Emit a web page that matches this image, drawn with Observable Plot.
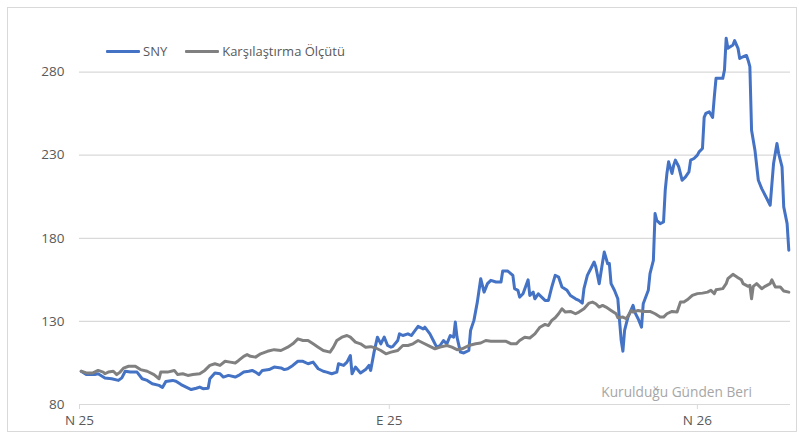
<!DOCTYPE html>
<html>
<head>
<meta charset="utf-8">
<script src="https://cdn.jsdelivr.net/npm/d3@7"></script>
<script src="https://cdn.jsdelivr.net/npm/@observablehq/plot@0.6"></script>
<style>
  body { margin: 0; background: #fff; font-family: "Open Sans", sans-serif; }
  #wrap { position: relative; width: 799px; height: 434px; overflow: hidden; }
  #frame { position: absolute; left: 7px; top: 7px; width: 790px; height: 425px; border: 1px solid #d9d9d9; box-sizing: border-box; pointer-events: none; }
  #legend { position: absolute; top: 42px; left: 106px; font-size: 13px; line-height: 18px; color: #595959; display: flex; align-items: center; white-space: nowrap; }
  #legend .item { display: flex; align-items: center; margin-right: 18px; }
  #legend .sw { display: inline-block; width: 34px; height: 3px; margin-right: 3px; border-radius: 1px; }
  #note { position: absolute; right: 47px; top: 383px; font-size: 13.7px; line-height: 18px; color: #a6a6a6; white-space: nowrap; }
  #chart { position: absolute; left: 0; top: 0; }
</style>
</head>
<body>
<div id="wrap">
  <div id="chart"></div>
  <div id="frame"></div>
  <div id="legend"></div>
  <div id="note"></div>
</div>
<script>
// Series names and colours
const seriesNames = ["SNY", "Karşılaştırma Ölçütü"];
const seriesColors = ["#4472C4", "#808080"];
const noteText = "Kurulduğu Günden Beri";

// X axis: days since start (April 2025)
const tickDays = [0, 183, 365];
const tickLabels = ["N 25", "E 25", "N 26"];
const yTicks = [80, 130, 180, 230, 280];

// SNY series (day, value)
const snyDays = [1,4,6,9,11,15,19,23,25,27,30,34,37,40,43,47,49,51,55,57,60,63,66,69,71,73,76,77,80,83,85,88,92,94,97,100,102,104,106,108,112,115,119,121,123,126,129,132,135,138,141,144,146,149,152,153,156,158,160,161,163,166,169,171,172,174,176,178,180,182,184,185,188,189,191,194,196,200,203,204,207,209,211,213,215,217,219,221,222,223,225,227,230,231,233,235,237,239,241,243,246,249,250,253,256,257,259,260,262,265,266,268,269,271,273,275,277,279,281,283,285,288,290,293,295,297,298,300,302,304,305,307,309,310,312,313,314,316,318,319,320,321,322,323,324,327,328,330,332,333,336,337,339,340,341,343,345,346,347,348,350,351,352,354,356,358,360,361,363,365,366,368,369,370,372,374,375,376,380,381,382,383,386,387,389,390,392,394,395,396,397,399,401,403,406,408,410,412,413,415,416,418,419];
const snyValues = [100,98,98,98,98.5,96,95.5,94.5,96,100,99.5,99.5,95.5,94.5,92.5,91.5,90.2,93.8,94.5,94,92,90.5,89,89.8,90.5,89.5,89.8,95.5,99,98.5,96.5,97.5,96.5,97.5,99.5,100,100.5,99.5,98,100.5,101,102.5,102,101,101.5,103.5,106,106,104.5,105.5,101.5,100,99.5,98.5,99.5,104.5,103.5,105.5,109.5,98.5,102.5,99,101,103.5,100.5,111.5,120.5,116.5,120.5,115.5,114.5,114.8,118.5,122.5,121.5,122.5,121.5,127,125.5,126.5,122.5,118.5,114.5,115.5,118.5,116.5,121.5,120.5,129.6,120.5,111.5,111,112.5,124.5,130.6,141.6,155.7,147.6,152.7,154.7,153.7,153.7,160.3,160.3,157.7,149.7,148.7,144.6,146.6,155,145.6,147.6,143.6,146.6,144.6,142.6,142.6,150.7,157.7,156.7,150.7,148.7,145.6,143.6,142.6,141,149.7,157.7,161.7,165.7,162.7,152.7,165.7,171.7,164.7,164.8,152.7,148.7,143.6,130.6,118.5,112.1,124.6,128.6,132.6,139.6,135.6,131.6,126.5,140.6,148.7,158.7,166.7,194.9,190.8,188.8,189.8,208.9,219,226,219,224,227,223,214.9,216.9,219.9,227,228,230,232,234,252.7,255.1,256.1,252.7,265,276.2,276.2,281.2,300.3,294.3,296.3,298.9,294.3,288.2,289.2,290,287,283.2,245,233,214.9,209.9,203.9,199.9,225,237,231,223,198.9,188.8,172.8];

// Benchmark series (day, value)
const refDays = [1,4,8,11,14,15,17,20,22,24,26,29,33,36,40,44,47,48,52,56,58,61,64,67,71,74,77,80,83,86,89,92,94,97,99,101,104,107,111,115,119,123,126,129,132,135,138,141,144,148,150,152,155,158,160,163,166,169,172,175,178,181,184,188,191,194,197,200,203,207,210,213,217,220,223,226,230,234,237,240,243,247,252,255,258,260,263,266,269,272,275,277,279,281,283,285,287,290,293,295,298,301,303,305,307,309,311,314,317,318,321,323,326,327,330,333,337,340,343,345,347,350,353,355,357,359,362,365,368,371,373,375,376,380,382,383,386,389,391,392,395,396,397,398,400,403,405,408,409,411,414,416,419];
const refValues = [100,99,99,100.5,99.5,98.5,99.5,100,98,99.5,101.9,103,103,101,100,98,95.5,99.5,99.5,100.5,98,98.5,97.5,98,98.5,100.5,103.5,104.5,103.5,106,105.5,105,106.5,109,110,109,108.5,110.5,112,113,112.5,114.5,116.5,119.5,118.5,118.5,116.5,114.5,112.5,111.5,114.5,118.5,120.5,121.5,120.5,117.5,116.5,114.5,114.8,114,112.5,110.5,111.5,112.5,115.5,115.5,116.5,118.5,117,115,113.5,114.5,115.5,114.5,113,113.5,115.5,116.5,117,118.5,118,118,118,116.5,116.5,118.5,120.5,120,122.5,126.5,128.2,127.5,130.6,132.2,134.6,137.6,135.6,136,134.6,135.6,137.6,141,141.6,140.6,138.6,139.6,138.6,136.6,134.6,132.2,132.6,131.6,136.6,135.6,136.6,136,136,134.6,132.6,132.6,134.6,136,135.6,141.6,141.6,143,145.6,146.7,147,147.6,148.7,146.7,149,149.7,152.7,155.7,158.3,156.3,155,152.7,151.1,151.7,143.6,151.1,152.7,149.7,151.1,152.7,155,150.7,150.7,148.3,147.6];

const sny = snyDays.map((d, i) => ({ d, v: snyValues[i] }));
const ref = refDays.map((d, i) => ({ d, v: refValues[i] }));

const chart = Plot.plot({
  width: 799,
  height: 434,
  marginLeft: 79,
  marginRight: 9,
  marginTop: 30,
  marginBottom: 30,
  x: { domain: [0, 420] },
  y: { domain: [80, 305] },
  style: { fontFamily: "Open Sans, sans-serif", fontSize: "13px", color: "#595959", background: "transparent" },
  marks: [
    Plot.ruleY(yTicks, { stroke: "#d9d9d9", strokeWidth: 1.2 }),
    Plot.axisY(yTicks, { tickSize: 0, tickPadding: 15, fontSize: 13.5, fill: "#595959", label: null }),
    Plot.axisX(tickDays, {
      tickSize: 5, tickPadding: 6, stroke: "#d9d9d9", fill: "#595959", fontSize: 13.5, label: null,
      tickFormat: d => tickLabels[tickDays.indexOf(d)]
    }),
    Plot.line(sny, { x: "d", y: "v", stroke: seriesColors[0], strokeWidth: 3, strokeLinejoin: "round", strokeLinecap: "round" }),
    Plot.line(ref, { x: "d", y: "v", stroke: seriesColors[1], strokeWidth: 3, strokeLinejoin: "round", strokeLinecap: "round" })
  ]
});
document.getElementById("chart").appendChild(chart);

const legend = document.getElementById("legend");
seriesNames.forEach((name, i) => {
  const item = document.createElement("span");
  item.className = "item";
  const sw = document.createElement("span");
  sw.className = "sw";
  sw.style.background = seriesColors[i];
  item.appendChild(sw);
  item.appendChild(document.createTextNode(name));
  legend.appendChild(item);
});
document.getElementById("note").textContent = noteText;
</script>
</body>
</html>
